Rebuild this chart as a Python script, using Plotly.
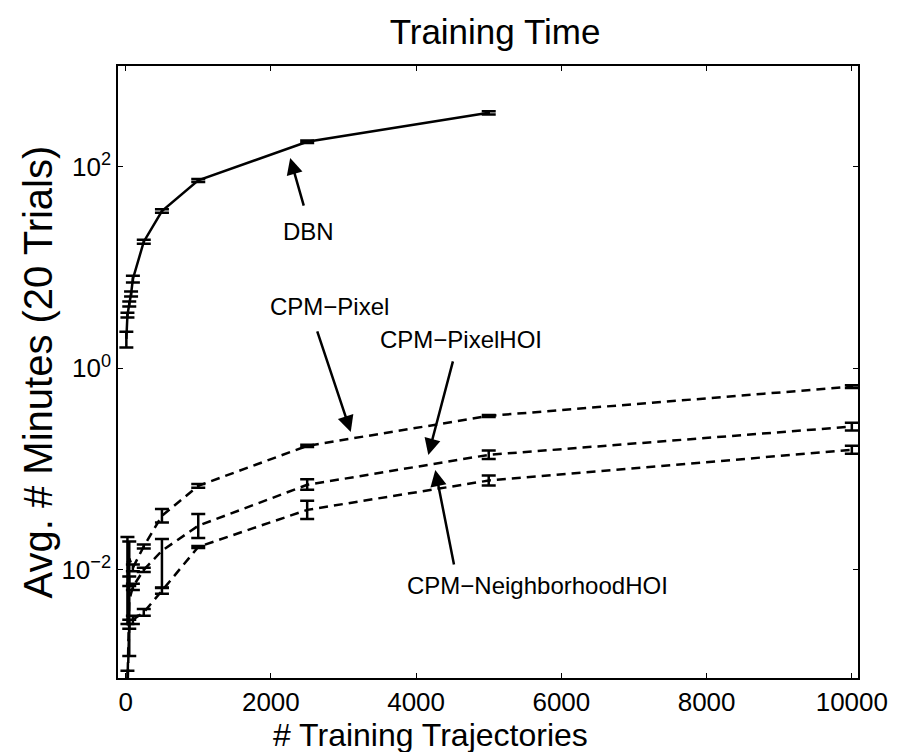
import plotly.graph_objects as go

# ---------------- data ----------------
dbn_x = [10, 25, 50, 75, 100, 250, 500, 1000, 2500, 5000]
dbn_y = [1.96, 3.38, 4.35, 5.47, 7.70, 18.05, 36.4, 73.3, 177, 343]
dbn_err = [0.35, 0.18, 0.25, 0.3, 0.6, 0.8, 1.5, 2.5, 5, 12]

cpm_x = [25, 50, 100, 250, 500, 1000, 2500, 5000, 10000]

pixel_y = [0.0118, 0.0130, 0.0105, 0.0171, 0.0344, 0.0682, 0.170, 0.337, 0.658]
pixel_err_up = [0.0094, 0.0061, 0.0008, 0.0008, 0.0057, 0.0030, 0.004, 0.008, 0.02]
pixel_err_dn = [0.0089, 0.0061, 0.0008, 0.0008, 0.0049, 0.0030, 0.004, 0.008, 0.02]

pixelhoi_y = [0.0007, 0.0050, 0.0068, 0.0100, 0.0155, 0.0274, 0.0698, 0.1385, 0.264]
pixelhoi_err_up = [0.0003, 0.0036, 0.0005, 0.0005, 0.0048, 0.0084, 0.0097, 0.0143, 0.025]
pixelhoi_err_dn = [0.0003, 0.0036, 0.0005, 0.0005, 0.0088, 0.0067, 0.0075, 0.0129, 0.023]

nbhd_y = [0.0006, 0.0029, 0.0032, 0.0038, 0.0062, 0.0169, 0.0394, 0.077, 0.1552]
nbhd_err_up = [0.0002, 0.0003, 0.0003, 0.0003, 0.0004, 0.0004, 0.009, 0.0093, 0.0149]
nbhd_err_dn = [0.0002, 0.0003, 0.0003, 0.0003, 0.0004, 0.0004, 0.0075, 0.0083, 0.0136]

x_ticks = [0, 2000, 4000, 6000, 8000, 10000]
x_ticktext = ["0", "2000", "4000", "6000", "8000", "10000"]
y_ticks = [0.01, 1, 100]
y_ticktext = ["10<sup>−2</sup>", "10<sup>0</sup>", "10<sup>2</sup>"]

FONT = "Liberation Sans, Arial, Helvetica, sans-serif"

fig = go.Figure()


def add_series(x, y, up, dn, dash, name):
    fig.add_trace(go.Scatter(
        x=x, y=y, mode="lines", name=name,
        line=dict(color="black", width=2.5, dash=dash),
        error_y=dict(type="data", array=up, arrayminus=dn, symmetric=False,
                     color="black", thickness=2.5, width=7),
        showlegend=False, cliponaxis=True,
    ))


add_series(dbn_x, dbn_y, dbn_err, dbn_err, "solid", "DBN")
add_series(cpm_x, pixel_y, pixel_err_up, pixel_err_dn, "9px,6px", "CPM−Pixel")
add_series(cpm_x, pixelhoi_y, pixelhoi_err_up, pixelhoi_err_dn, "9px,6px", "CPM−PixelHOI")
add_series(cpm_x, nbhd_y, nbhd_err_up, nbhd_err_dn, "9px,6px", "CPM−NeighborhoodHOI")

# labels (text) and arrows
labels = [
    ("DBN", 2525, 1.362),
    ("CPM−Pixel", 2812, 0.609),
    ("CPM−PixelHOI", 4621, 0.2815),
    ("CPM−NeighborhoodHOI", 5675, -2.158),
]
for txt, lx, ly in labels:
    fig.add_annotation(x=lx, y=ly, xref="x", yref="y", text=txt, showarrow=False,
                       font=dict(family=FONT, size=24, color="black"))

arrows = [
    (2266, 2.086, 14, 49),
    (3100, -0.631, -34, -102),
    (4168, -0.859, 25, -95),
    (4264, -1.008, 19, 96),
]
for tx, ty, axp, ayp in arrows:
    fig.add_annotation(x=tx, y=ty, xref="x", yref="y", text="", showarrow=True,
                       ax=axp, ay=ayp, axref="pixel", ayref="pixel",
                       arrowhead=2, arrowsize=1.3, arrowwidth=2.5, arrowcolor="black",
                       standoff=0, startstandoff=0)

# axis titles as annotations (positioned like the reference)
fig.add_annotation(x=0.207, y=-0.093, xref="paper", yref="paper",
                   text="# Training Trajectories", showarrow=False,
                   xanchor="left", yanchor="middle",
                   font=dict(family=FONT, size=32, color="black"))
fig.add_annotation(x=-0.1075, y=0.5, xref="paper", yref="paper",
                   text="Avg. # Minutes (20 Trials)", showarrow=False, textangle=-90,
                   xanchor="center", yanchor="middle",
                   font=dict(family=FONT, size=40, color="black"))

fig.update_layout(
    width=900, height=752,
    margin=dict(l=118, r=38, t=66, b=74, pad=0),
    paper_bgcolor="white", plot_bgcolor="white",
    font=dict(family=FONT, size=26, color="black"),
    title=dict(text="Training Time", x=0.55, xanchor="center", y=0.958, yanchor="middle",
               font=dict(family=FONT, size=35, color="black")),
    showlegend=False,
)
fig.update_xaxes(
    range=[-105, 10085], tickvals=x_ticks, ticktext=x_ticktext, ticks="inside",
    ticklen=5, tickwidth=1, tickcolor="black", showline=True, linecolor="black",
    linewidth=1.5, mirror="ticks", showgrid=False, zeroline=False,
    tickfont=dict(family=FONT, size=26),
)
fig.update_yaxes(
    type="log", range=[-3.073, 3.0], tickvals=y_ticks, ticktext=y_ticktext,
    ticks="inside", ticklen=5, tickwidth=1, tickcolor="black",
    showline=True, linecolor="black", linewidth=1.5, mirror="ticks",
    showgrid=False, zeroline=False,
    tickfont=dict(family=FONT, size=26),
)

fig.write_html("out.html")
